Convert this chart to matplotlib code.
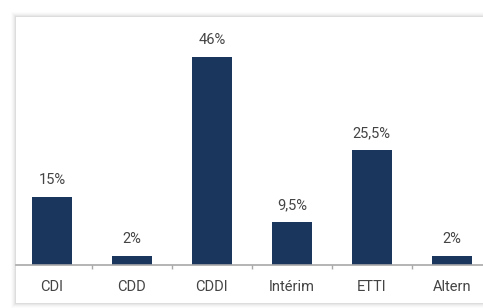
import matplotlib
matplotlib.use('Agg')
import matplotlib.pyplot as plt
import matplotlib.patches as patches

plt.rcParams['font.family'] = ['Roboto', 'DejaVu Sans']

# données
categories = ['CDI', 'CDD', 'CDDI', 'Intérim', 'ETTI', 'Altern']
values = [15, 2, 46, 9.5, 25.5, 2]
labels = ['15%', '2%', '46%', '9,5%', '25,5%', '2%']

bar_color = '#1b365d'
text_color = '#444444'
W, H = 483, 308

fig = plt.figure(figsize=(W / 100, H / 100), dpi=100)
fig.patch.set_facecolor('white')

# carte blanche avec ombre douce
x0, y0 = 16 / W, 5 / H
for i, a in enumerate([0.012, 0.018, 0.025, 0.035, 0.045]):
    d = (5 - i) / W
    dv = (5 - i) / H
    fig.patches.append(patches.Rectangle((x0 - d, y0 - dv), 1, 286 / H + 2 * dv,
                                         transform=fig.transFigure, facecolor='black',
                                         alpha=a, edgecolor='none', zorder=0))
fig.patches.append(patches.Rectangle((x0, y0), 1, 286 / H,
                                     transform=fig.transFigure, facecolor='white',
                                     edgecolor='none', zorder=1))

ax = fig.add_axes([16 / W, (308 - 265) / H, 467 / W, 226 / H])
ax.patch.set_alpha(0)
ax.set_zorder(2)

x = range(len(categories))
ax.bar(x, values, width=0.5, color=bar_color)
for xi, v, lab in zip(x, values, labels):
    ax.annotate(lab, (xi, v), xytext=(0, 7), textcoords='offset points',
                ha='center', va='bottom', fontsize=10.5, color=text_color)

ax.set_xlim(-0.45, 5.39)
ax.set_ylim(0, 50)
for s in ['top', 'right', 'left']:
    ax.spines[s].set_visible(False)
ax.spines['bottom'].set_color('#a8a8a8')
ax.spines['bottom'].set_linewidth(1.2)
ax.set_yticks([])
ax.set_xticks(list(x))
ax.set_xticklabels(categories, fontsize=10.5, color=text_color)
ax.tick_params(axis='x', which='major', length=0, pad=11)
ax.set_xticks([i + 0.5 for i in range(len(categories) - 1)], minor=True)
ax.tick_params(axis='x', which='minor', length=3, color='#a8a8a8', width=1)

plt.savefig('out.png', dpi=100)
